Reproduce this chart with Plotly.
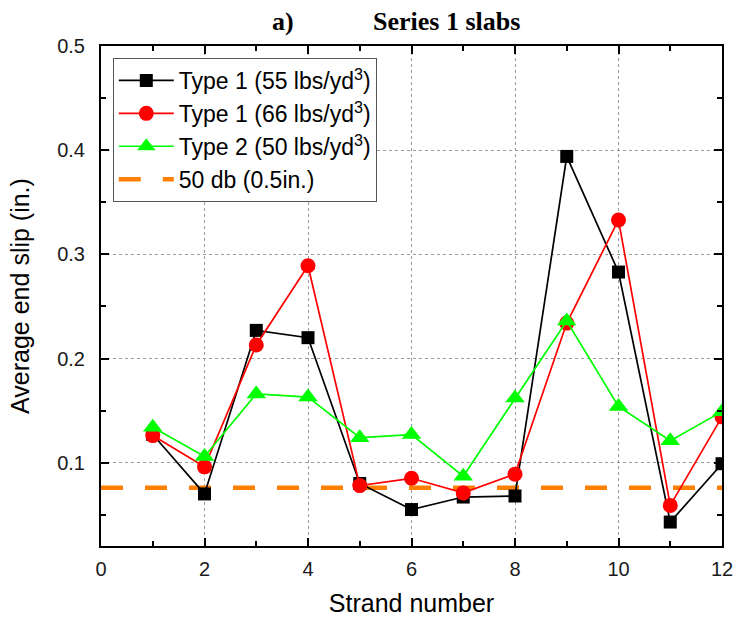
import plotly.graph_objects as go

# Strand positions along the slab
strand = [1, 2, 3, 4, 5, 6, 7, 8, 9, 10, 11, 12]

# Average end slip (in.) per strand for each fibre type / dosage
slip_type1_55 = [0.127, 0.070, 0.227, 0.220, 0.080, 0.055, 0.067, 0.068, 0.394, 0.283, 0.043, 0.099]
slip_type1_66 = [0.126, 0.096, 0.213, 0.289, 0.078, 0.085, 0.071, 0.089, 0.234, 0.333, 0.059, 0.144]
slip_type2_50 = [0.134, 0.106, 0.166, 0.163, 0.124, 0.127, 0.087, 0.162, 0.236, 0.154, 0.121, 0.149]

# Reference limit: 50 strand diameters
limit_x = [0, 12]
limit_y = [0.076, 0.076]

series_names = [
    "Type 1 (55 lbs/yd<sup>3</sup>)",
    "Type 1 (66 lbs/yd<sup>3</sup>)",
    "Type 2 (50 lbs/yd<sup>3</sup>)",
    "50 db (0.5in.)",
]

fig = go.Figure()

fig.add_trace(go.Scatter(
    x=limit_x, y=limit_y, mode="lines", name=series_names[3], legendrank=4,
    line=dict(color="#FF8000", width=4.5, dash="22px,22px"),
))
fig.add_trace(go.Scatter(
    x=strand, y=slip_type1_55, mode="lines+markers", name=series_names[0], legendrank=1,
    line=dict(color="black", width=1.7),
    marker=dict(symbol="square", size=13, color="black"),
))
fig.add_trace(go.Scatter(
    x=strand, y=slip_type1_66, mode="lines+markers", name=series_names[1], legendrank=2,
    line=dict(color="#FF0000", width=1.7),
    marker=dict(symbol="circle", size=15, color="#FF0000"),
))
fig.add_trace(go.Scatter(
    x=strand, y=slip_type2_50, mode="lines+markers", name=series_names[2], legendrank=3,
    line=dict(color="#00FF00", width=1.7),
    marker=dict(symbol="triangle-up", size=17, color="#00FF00"),
))

axis_common = dict(
    showline=True, linecolor="black", linewidth=2, mirror="allticks",
    ticks="inside", ticklen=8, tickwidth=1.5, tickcolor="black",
    showgrid=True, gridcolor="#9a9a9a", griddash="3px,3px", gridwidth=1,
    zeroline=False, automargin=False, ticklabeloverflow="allow",
    tickfont=dict(family="Liberation Sans, Arial", size=20, color="#1a1a1a"),
    title_font=dict(family="Liberation Sans, Arial", size=25, color="black"),
)

fig.update_xaxes(
    **axis_common,
    range=[0, 12], tick0=0, dtick=2,
    minor=dict(dtick=1, ticks="inside", ticklen=5, tickwidth=1.5, tickcolor="black", showgrid=False),
    title_text="Strand number", title_standoff=15, ticklabelstandoff=4,
)
fig.update_yaxes(
    **axis_common,
    range=[0.02, 0.5], tick0=0.1, dtick=0.1,
    minor=dict(dtick=0.05, tick0=0.0, ticks="inside", ticklen=5, tickwidth=1.5, tickcolor="black", showgrid=False),
    title_text="Average end slip (in.)", title_standoff=20, ticklabelstandoff=10,
)

fig.add_annotation(
    text="<b>a)</b>", xref="paper", yref="paper", x=0.2925, y=1.048,
    xanchor="center", yanchor="middle", showarrow=False,
    font=dict(family="Liberation Serif, Times New Roman", size=26, color="black"),
)
fig.add_annotation(
    text="<b>Series 1 slabs</b>", xref="paper", yref="paper", x=0.5565, y=1.048,
    xanchor="center", yanchor="middle", showarrow=False,
    font=dict(family="Liberation Serif, Times New Roman", size=26, color="black"),
)

fig.update_layout(
    width=733, height=618,
    margin=dict(l=101, r=11, t=46, b=72),
    paper_bgcolor="white", plot_bgcolor="white",
    showlegend=True,
    legend=dict(
        x=0.019, y=0.976, xanchor="left", yanchor="top",
        bgcolor="white", bordercolor="#555555", borderwidth=1,
        font=dict(family="Liberation Sans, Arial", size=23, color="black"),
        itemwidth=55, tracegroupgap=0,
    ),
)

fig.write_html("out.html")
